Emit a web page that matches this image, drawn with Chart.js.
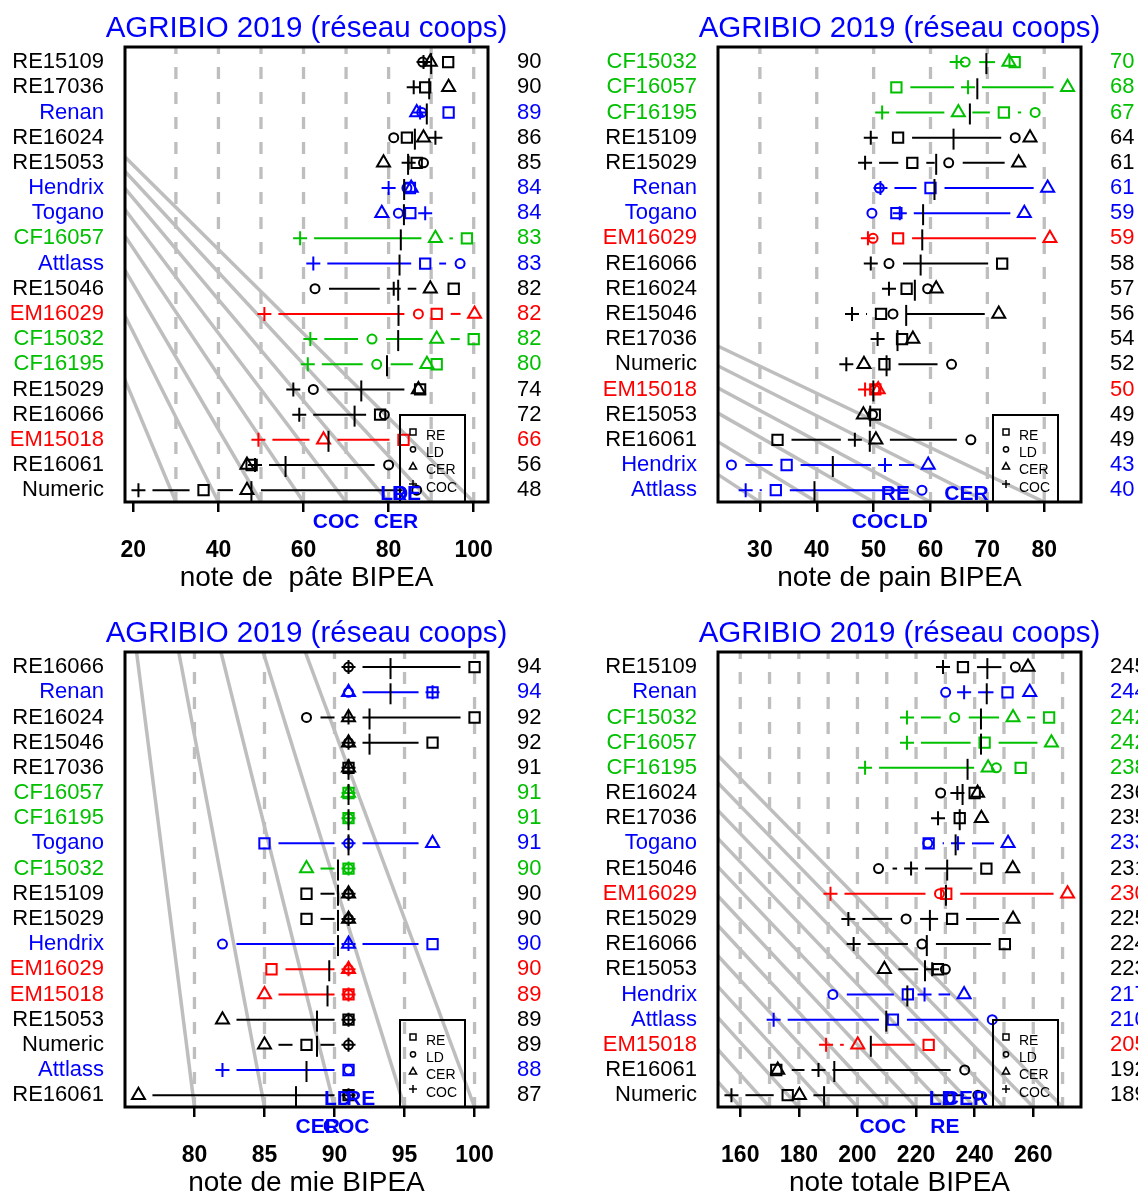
<!DOCTYPE html>
<html>
<head>
  <meta charset="utf-8">
  <title>AGRIBIO 2019 (réseau coops)</title>
  <script src="https://cdn.jsdelivr.net/npm/chart.js"></script>
  <style>
    body { margin: 0; background: #fff; width: 1138px; height: 1193px; overflow: hidden; position: relative; }
    canvas { position: absolute; }
  </style>
</head>
<body>
  <canvas id="pate" width="545" height="595" style="left:0;top:0"></canvas>
  <canvas id="pain" width="545" height="595" style="left:593px;top:0"></canvas>
  <canvas id="mie" width="545" height="595" style="left:0;top:605px"></canvas>
  <canvas id="totale" width="545" height="595" style="left:593px;top:605px"></canvas>
  <script>
    // --- note de pâte ---
    var pateVarietes = ['RE15109', 'RE17036', 'Renan', 'RE16024', 'RE15053', 'Hendrix', 'Togano', 'CF16057', 'Attlass',
      'RE15046', 'EM16029', 'CF15032', 'CF16195', 'RE15029', 'RE16066', 'EM15018', 'RE16061', 'Numeric'];
    var pateRE  = [94, 88.6, 94.1, 84.3, 86.6, 85, 85.1, 98.4, 88.6, 95.3, 91.3, 100, 91.3, 87.4, 78, 83.5, 47.8, 36.5];
    var pateLD  = [88, null, 87.8, 81.2, 88.2, 84.3, 82.3, null, 96.8, 62.7, 87, 76.1, 77.2, 62.3, 79, null, 80, 86.6];
    var pateCER = [89.8, 94.1, 86.6, 88.2, 78.8, 85.3, 78.4, 91, null, 89.8, 100.2, 91.3, 89, 87, null, 64.7, 46.7, 46.7];
    var pateCOC = [88.2, 85.9, 87.4, 91, 84.7, 80, 88.6, 59.2, 62.3, 81.2, 50.8, 61.6, 61, 57.6, 59, 49.4, 48.6, 21.2];
    var pateMoy = [90, 90, 89, 86, 85, 84, 84, 83, 83, 82, 82, 82, 80, 74, 72, 66, 56, 48];
    var pateGraduations = [20, 40, 60, 80, 100];
    var pateGrille = [30, 40, 50, 60, 70, 80, 90, 100];
    var pateSommet = [-19.2, -2.46];

    // --- note de pain ---
    var painVarietes = ['CF15032', 'CF16057', 'CF16195', 'RE15109', 'RE15029', 'Renan', 'Togano', 'EM16029', 'RE16066',
      'RE16024', 'RE15046', 'RE17036', 'Numeric', 'EM15018', 'RE15053', 'RE16061', 'Hendrix', 'Attlass'];
    var painRE  = [74.8, 54, 72.9, 54.3, 56.8, 60, 54, 54.3, 72.6, 55.8, 51.3, 55, 51.9, 50.3, 50.2, 33.1, 34.7, 32.8];
    var painLD  = [66.1, null, 78.4, 74.9, 63.2, 51, 49.7, 49.9, 52.7, 59.5, 53.4, null, 63.7, 50.2, 49.8, 67.1, 25, 58.5];
    var painCER = [73.8, 84.1, 64.9, 77.5, 75.5, 80.6, 76.5, 81, null, 61, 72, 56.9, 48.3, 50.8, 48.2, 50.4, 59.6, null];
    var painCOC = [64.6, 66.6, 51.5, 49.5, 48.5, 51.2, 54.6, 49, 49.5, 52.7, 46.2, 50.7, 45.2, 48.5, null, 46.7, 52, 27.5];
    var painMoy = [70, 68, 67, 64, 61, 61, 59, 59, 58, 57, 56, 54, 52, 50, 49, 49, 43, 40];
    var painGraduations = [30, 40, 50, 60, 70, 80];
    var painGrille = [30, 40, 50, 60, 70, 80];
    var painSommet = [-103.6, -2.34];

    // --- note de mie ---
    var mieVarietes = ['RE16066', 'Renan', 'RE16024', 'RE15046', 'RE17036', 'CF16057', 'CF16195', 'Togano', 'CF15032',
      'RE15109', 'RE15029', 'Hendrix', 'EM16029', 'EM15018', 'RE15053', 'Numeric', 'Attlass', 'RE16061'];
    var mieRE  = [100, 97, 100, 97, 91, 91, 91, 85, 91, 88, 88, 97, 85.5, 91, 91, 88, 91, 91];
    var mieLD  = [91, 91, 88, 91, null, null, 91, 91, 91, 91, 91, 82, 91, 91, 91, 91, 91, 91];
    var mieCER = [null, 91, 91, 91, 91, 91, null, 97, 88, 91, 91, 91, 91, 85, 82, 85, null, 76];
    var mieCOC = [91, 97, 91, 91, 91, 91, 91, 91, 91, 91, 91, 91, 91, 91, 91, 91, 82, 91];
    var mieMoy = [94, 94, 92, 92, 91, 91, 91, 91, 90, 90, 90, 90, 90, 89, 89, 89, 88, 87];
    var mieGraduations = [80, 85, 90, 95, 100];
    var mieGrille = [80, 85, 90, 95, 100];
    var mieSommet = [69.6, -27.98];

    // --- note totale ---
    var totVarietes = ['RE15109', 'Renan', 'CF15032', 'CF16057', 'CF16195', 'RE16024', 'RE17036', 'Togano', 'RE15046',
      'EM16029', 'RE15029', 'RE16066', 'RE15053', 'Hendrix', 'Attlass', 'EM15018', 'RE16061', 'Numeric'];
    var totRE  = [236, 251.2, 265.4, 243.4, 255.7, 240, 234.9, 224.3, 244, 230.3, 232.3, 250.3, 227.5, 217.2, 212.1, 224.3, 172.3, 176.2];
    var totLD  = [253.9, 230.1, 233.2, null, 247.4, 228.4, null, 224, 207.2, 228, 216.6, 222, 230, 191.6, 246, null, 236.6, 241.1];
    var totCER = [258.2, 258.8, 253.1, 266.2, 244.6, 241, 242.3, 251.4, 253, 271.7, 253.1, null, 209.2, 236.4, null, 200.1, 172.8, 180.2];
    var totCOC = [229.2, 236.4, 216.9, 216.9, 202.6, 234.1, 227.5, 234.3, 218.3, 190.8, 196.9, 198.7, 225.5, 222.9, 171.4, 189.3, 186.7, 157];
    var totMoy = [245, 244, 242, 242, 238, 236, 235, 233, 231, 230, 225, 224, 223, 217, 210, 205, 192, 189];
    var totGraduations = [160, 180, 200, 220, 240, 260];
    var totGrille = [160, 170, 180, 190, 200, 210, 220, 230, 240, 250, 260, 270];
    var totSommet = [-895.8, -120.8];

    var lieux = ['RE', 'LD', 'CER', 'COC'];
    var TITRE = 'AGRIBIO 2019 (réseau coops)';
    var POLICE = '"Liberation Sans", Arial, sans-serif';

    Chart.defaults.font.family = POLICE;
    Chart.defaults.color = '#000';
    Chart.defaults.animation = false;

    function couleur(nom) {
      if (nom === undefined) return '#000';
      if (['Renan', 'Togano', 'Hendrix', 'Attlass'].indexOf(nom) >= 0) return '#0000ff';
      if (nom.indexOf('CF') === 0) return '#00c000';
      if (nom.indexOf('EM') === 0) return '#ff0000';
      return '#000';
    }

    function points(vals) {
      var out = [];
      for (var i = 0; i < vals.length; i++) {
        if (vals[i] !== null) out.push({ x: vals[i], y: i });
      }
      return out;
    }

    function moyenne(vals) {
      var s = 0, n = 0;
      vals.forEach(function (v) { if (v !== null) { s += v; n++; } });
      return n ? s / n : null;
    }

    // petit symbole de légende
    function symbole(ctx, style, x, y, r) {
      ctx.beginPath();
      if (style === 'rect') {
        ctx.rect(x - r, y - r, 2 * r, 2 * r);
      } else if (style === 'circle') {
        ctx.arc(x, y, r, 0, Math.PI * 2);
      } else if (style === 'triangle') {
        ctx.moveTo(x, y - r * 1.1);
        ctx.lineTo(x + r, y + r * 0.7);
        ctx.lineTo(x - r, y + r * 0.7);
        ctx.closePath();
      } else {
        ctx.moveTo(x - r, y); ctx.lineTo(x + r, y);
        ctx.moveTo(x, y - r); ctx.lineTo(x, y + r);
      }
      ctx.stroke();
    }

    function creerGraphique(id, p) {
      var noms = p.varietes;
      var series = [p.RE, p.LD, p.CER, p.COC];
      var styles = ['rect', 'circle', 'triangle', 'cross'];
      var rayons = [7.3, 4.5, 7.5, 7];
      var tous = [].concat(p.RE, p.LD, p.CER, p.COC).filter(function (v) { return v !== null; });
      var vmin = Math.min.apply(null, tous), vmax = Math.max.apply(null, tous);
      var marge = 0.04 * (vmax - vmin);
      var rmin = -0.6, rmax = 17.47;

      var decor = {
        id: 'decor',
        beforeDatasetsDraw: function (chart) {
          var ctx = chart.ctx, a = chart.chartArea;
          var sx = chart.scales.x, sy = chart.scales.y;
          ctx.save();
          ctx.beginPath();
          ctx.rect(a.left, a.top, a.right - a.left, a.bottom - a.top);
          ctx.clip();
          // faisceau de droites grises
          ctx.strokeStyle = '#bebebe';
          ctx.lineWidth = 3.5;
          var ax = sx.getPixelForValue(p.sommet[0]), ay = sy.getPixelForValue(p.sommet[1]);
          p.grille.forEach(function (v) {
            ctx.beginPath();
            ctx.moveTo(ax, ay);
            ctx.lineTo(sx.getPixelForValue(v), sy.getPixelForValue(rmax));
            ctx.stroke();
          });
          // lignes verticales pointillées
          ctx.lineWidth = 3.3;
          ctx.setLineDash([12, 13]);
          ctx.lineDashOffset = 5;
          p.grille.forEach(function (v) {
            var x = sx.getPixelForValue(v);
            ctx.beginPath();
            ctx.moveTo(x, a.top);
            ctx.lineTo(x, a.bottom);
            ctx.stroke();
          });
          ctx.setLineDash([]);
          // segments reliant les lieux, interrompus autour des points
          ctx.lineWidth = 2;
          var gap = 14;
          noms.forEach(function (nom, i) {
            var vals = series.map(function (s) { return s[i]; }).filter(function (v) { return v !== null; });
            vals.sort(function (u, w) { return u - w; });
            var y = sy.getPixelForValue(i);
            ctx.strokeStyle = couleur(nom);
            for (var k = 1; k < vals.length; k++) {
              var x1 = sx.getPixelForValue(vals[k - 1]), x2 = sx.getPixelForValue(vals[k]);
              if (x2 - x1 > 2 * gap) {
                ctx.beginPath();
                ctx.moveTo(x1 + gap, y);
                ctx.lineTo(x2 - gap, y);
                ctx.stroke();
              }
            }
          });
          ctx.restore();
        },
        afterDatasetsDraw: function (chart) {
          var ctx = chart.ctx, a = chart.chartArea;
          var sx = chart.scales.x, sy = chart.scales.y;
          ctx.save();
          // moyenne de chaque variété
          ctx.strokeStyle = '#000';
          ctx.lineWidth = 2;
          noms.forEach(function (nom, i) {
            var m = moyenne(series.map(function (s) { return s[i]; }));
            var x = sx.getPixelForValue(m), y = sy.getPixelForValue(i);
            ctx.beginPath();
            ctx.moveTo(x, y - 9);
            ctx.lineTo(x, y + 12);
            ctx.stroke();
          });
          // cadre
          ctx.lineWidth = 3;
          ctx.strokeRect(a.left, a.top, a.right - a.left, a.bottom - a.top);
          // légende
          var lx = a.right - 88, lt = a.top + 368;
          ctx.lineWidth = 2;
          ctx.strokeRect(lx, lt, 65, a.bottom - lt);
          ctx.font = '14px ' + POLICE;
          ctx.textAlign = 'left';
          ctx.textBaseline = 'middle';
          ctx.fillStyle = '#000';
          ctx.lineWidth = 1.5;
          var rl = [3, 2.6, 3.6, 4];
          lieux.forEach(function (lieu, k) {
            var ty = lt + 21 + k * 17.3;
            symbole(ctx, styles[k], lx + 13, ty - 4, rl[k]);
            ctx.fillText(lieu, lx + 26, ty);
          });
          // moyennes des lieux, en bleu sous le cadre
          var moy = lieux.map(function (lieu, k) { return { nom: lieu, v: moyenne(series[k]) }; });
          moy.sort(function (u, w) { return u.v - w.v; });
          ctx.font = 'bold 21px ' + POLICE;
          ctx.textAlign = 'center';
          ctx.textBaseline = 'alphabetic';
          ctx.fillStyle = '#0000ff';
          moy.forEach(function (m, k) {
            var y = (k % 2 === 0) ? a.bottom + 26 : a.bottom - 2;
            ctx.fillText(m.nom, sx.getPixelForValue(m.v), y);
          });
          // titre
          ctx.font = '29.5px ' + POLICE;
          ctx.fillText(TITRE, (a.left + a.right) / 2, 37);
          ctx.restore();
        }
      };

      return new Chart(document.getElementById(id), {
        type: 'scatter',
        data: {
          datasets: lieux.map(function (lieu, k) {
            return {
              label: lieu,
              data: points(series[k]),
              pointStyle: styles[k],
              pointRadius: rayons[k],
              pointBorderWidth: 2,
              pointBackgroundColor: 'rgba(0,0,0,0)',
              pointBorderColor: function (c) { return c.raw ? couleur(noms[c.raw.y]) : '#000'; }
            };
          })
        },
        options: {
          responsive: false,
          events: [],
          layout: { padding: { top: 47, left: 0, right: 0, bottom: 0 } },
          plugins: { legend: { display: false }, tooltip: { enabled: false } },
          scales: {
            x: {
              type: 'linear',
              position: 'bottom',
              min: vmin - marge,
              max: vmax + marge,
              afterBuildTicks: function (s) { s.ticks = p.graduations.map(function (v) { return { value: v }; }); },
              afterFit: function (s) { s.height = 93; },
              grid: { display: true, drawOnChartArea: false, drawTicks: true, tickLength: 10, color: '#000', lineWidth: 2.5 },
              border: { display: false },
              ticks: { padding: 25, autoSkip: false, maxRotation: 0, font: { size: 23, weight: 'bold' }, color: '#000' },
              title: { display: true, text: p.titreX, font: { size: 28 }, color: '#000', padding: { top: 0, bottom: 0 } }
            },
            y: {
              type: 'linear',
              position: 'left',
              min: rmin,
              max: rmax,
              reverse: true,
              afterBuildTicks: function (s) { s.ticks = noms.map(function (n, i) { return { value: i }; }); },
              afterFit: function (s) { s.width = 125; },
              grid: { display: false, drawTicks: false },
              border: { display: false },
              ticks: {
                padding: 21,
                autoSkip: false,
                font: { size: 22 },
                color: function (c) { return couleur(noms[c.tick.value]); },
                callback: function (v) { return noms[v]; }
              }
            },
            y2: {
              type: 'linear',
              position: 'right',
              min: rmin,
              max: rmax,
              reverse: true,
              afterBuildTicks: function (s) { s.ticks = noms.map(function (n, i) { return { value: i }; }); },
              afterFit: function (s) { s.width = 57; },
              grid: { display: false, drawTicks: false },
              border: { display: false },
              ticks: {
                padding: 29,
                autoSkip: false,
                font: { size: 22 },
                color: function (c) { return couleur(noms[c.tick.value]); },
                callback: function (v) { return String(p.moy[v]); }
              }
            }
          }
        },
        plugins: [decor]
      });
    }

    creerGraphique('pate', { varietes: pateVarietes, RE: pateRE, LD: pateLD, CER: pateCER, COC: pateCOC, moy: pateMoy,
      graduations: pateGraduations, grille: pateGrille, sommet: pateSommet, titreX: 'note de  pâte BIPEA' });
    creerGraphique('pain', { varietes: painVarietes, RE: painRE, LD: painLD, CER: painCER, COC: painCOC, moy: painMoy,
      graduations: painGraduations, grille: painGrille, sommet: painSommet, titreX: 'note de pain BIPEA' });
    creerGraphique('mie', { varietes: mieVarietes, RE: mieRE, LD: mieLD, CER: mieCER, COC: mieCOC, moy: mieMoy,
      graduations: mieGraduations, grille: mieGrille, sommet: mieSommet, titreX: 'note de mie BIPEA' });
    creerGraphique('totale', { varietes: totVarietes, RE: totRE, LD: totLD, CER: totCER, COC: totCOC, moy: totMoy,
      graduations: totGraduations, grille: totGrille, sommet: totSommet, titreX: 'note totale BIPEA' });
  </script>
</body>
</html>
